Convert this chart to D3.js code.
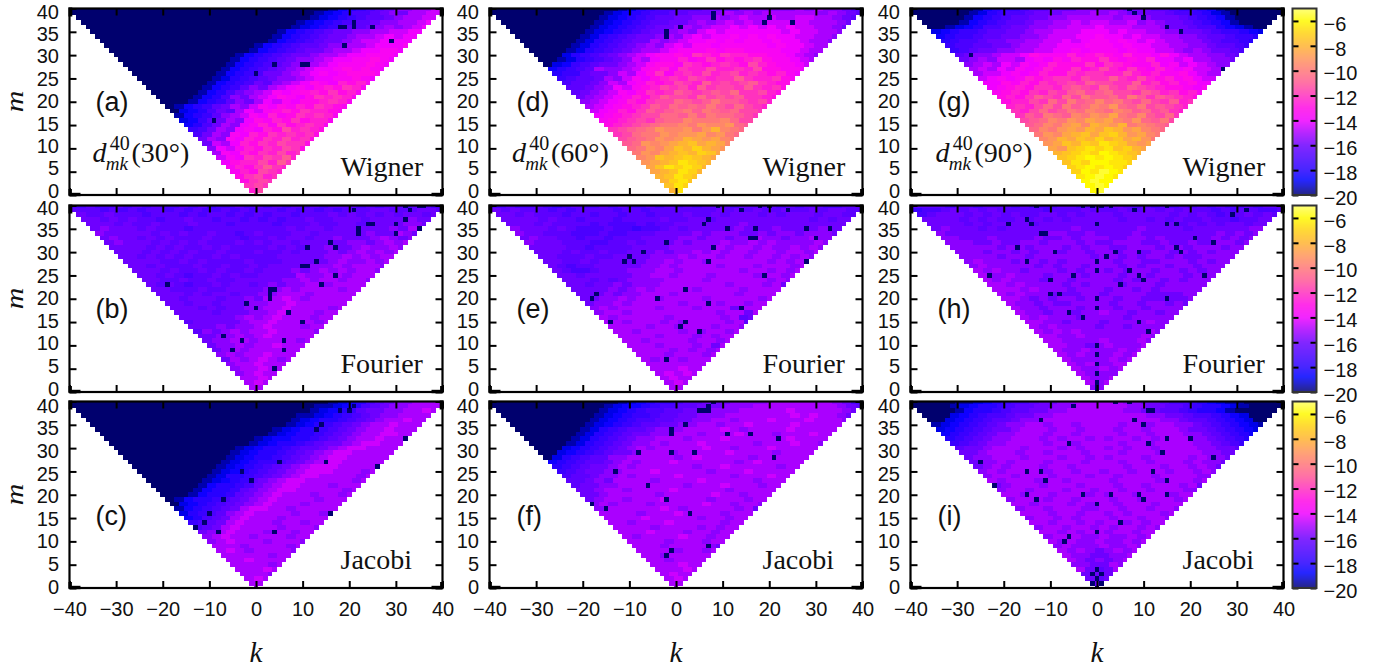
<!DOCTYPE html>
<html>
<head>
<meta charset="utf-8">
<script src="https://cdn.jsdelivr.net/npm/d3@7"></script>
<style>
body { margin: 0; background: #fff; }
svg { display: block; }
text { fill: #111; }
</style>
</head>
<body>
<svg id="chart" width="1382" height="670"></svg>
<script>
// every row is one m (40 down to 0), one char per 2 steps of k from -m upward
// char = base 36, value = -20 + char / 2
const rows_a = [
"0000000000000000000000000000134567899aabb","000000000000000000000000001234667898aabb","00000000000000000000000001234567789aabb",
"0000000000000000000000012345677899aabc","00000000000000000000001234567789a9abc","000000000000000000001345678899aabbcc",
"0000000000000000000134567889aabcbcc","000000000000000000134567889abbcccc","00000000000000001345677899aabcccd",
"000000000000000134567889aabccddc","0000000000000134567889aabccdddc","000000000000134567899abccddedc",
"0000000000013456789aabcdddedc","000000000013456789abccdededc","00000000013456889abcdcdeeed",
"00000000124567899abccddedc","000000013456879abcedcfefd","0000001345798abcdcefegfd",
"00000134689abdcdefegefd","0000134698abcedcegfgfd","0001345798acbdceefgfd",
"0134578a9bdcedfegfed","0234687acbdefegffed","134579abdcfdegfgfd",
"23578a9cedfegeffd","3468a9cdfdgefgfd","568a9cdcfehfgfe",
"68a9dcfegfgfge","8a9dcfegfhfge","8bacfegfhgge",
"9cbdfegfhge","adcfegfhfg","bdcgfhgif","ceffhfig","dfegigf","dfehgf","eghfg","eghg","ghg","fh","h"];
const rows_b = [
"66766767676676756676767676767776767767767","7776767677676766767677676767677788777887","877877767776767767676776777878787878878",
"88787877677877677676767787788878888988","8887877877787776777767778778878888998","8988878777677777777778788788888898a89",
"98888878787787767877788788888988a98","898878787778777677878878898889a989","898887878787778787887888889989a9a",
"888878787787877778787889889a99a9","88878787877877787787888989a9a9a","887878787787877778888899a9a9a",
"88887787877778777888889a99a9a","8878777877877878888999a9aaa9","88878778787787888989a9a9aa9",
"88787677878778888a99aa9aaa","88778778778888899a9aa9aa9","87876778788789899aa9aaaa",
"88777877888899a9aaaa9aa","8887878878899aaa9aaaaa","88788878898aaba9aaaaa",
"88788788899aabaaaaaa","8887878899aabaaaa9a","8888788899abaaa9aa",
"8888889a9abaaa9aa","7888889aabaaaa9a","8889899abaaa9aa",
"7989a9aabaaaa9","8899a9abaaaaa","899aa9aaaa9a",
"899a9aabaaa","89a9aaaaaa","9a9aabaaa","8a9aba9a","9aabaaa","9aabaa","9abaa","aaba","aba","aa","a"];
const rows_c = [
"0000000000000000000000000000123467899aaaa","000000000000000000000000001123467899aaaa","00000000000000000000000001234578899aaba",
"0000000000000000000000011234567899aaaa","00000000000000000000001234456789aabaa","000000000000000000000123456789aabaaa",
"00000000000000000001234456789aabaaa","0000000000000000001234456789aabbaa","000000000000000012334456789aabaaa",
"00000000000000012344567889abbaaa","000000000000012344567789abbaaaa","0000000000001234456789abbaaaaa",
"000000000001234456789abbaaaaa","00000000001234556789abbaaaaa","000000000123456789abbbaaaaa",
"00000000123456789abbbaaa9a","0000000124456789abbaaaa9a","00000012345789abbaaaaa9a",
"0000013445689abbaaa9aaa","000013445789abbaaaaa9a","00013445789abaaa9aa9a",
"0134456789abaaaa9aaa","023456789abaaa9aaaa","1345678abbaa9aaaaa",
"245679abaaaa9aa9a","34678abaaa9aaaaa","5678abaaa9aa9aa",
"678abaaaa9aaa9","89abaaa9aa9aa","9abaa9aaa9aa",
"9abaaa9aaa9","aaa9aaaa9a","aba9aaaa9","aaaaa9aa","aabaaaa","aaaa9a","aaaba","aaa9","aba","aa","a"];
const rows_d = [
"000000000000001245667778888999999a9a99876","0000000000001234566778889a9a9aaaaaa9a987","00000000000123456778899a9abaabaabbaa987",
"000000000012345677889a9abababbbbbaaa98","0000000001234567889a9abbcbcbcbcbbaa98","000000001234567889a9bcbccccccbcbbaa9",
"0000000124567889a9bcbccdcdcdccbbaa9","00000012456788a9abccdcdcddcdccbaa9","0000012456789a9bcbddcdddddcdccbaa",
"000012456789aabcdddedeeddddccbaa","0002456789abcddedgfegffeeddcba9","0012456789bacddfdegefefgeddcba",
"023567889abdeedgfefgfehfeddcb","34567a99abdefdgffhffgfheeddc","4557889bacegdfgfhfghfgfefdc",
"56778a9bdcefgfhgfggigffged","67789bacdfefhgfighghigfee","7789acbdefhghfighhgigfge",
"789abdcegfgihghihjgghfe","89abcdfegihhgjhihiggfe","9abcdfeghhjihikiihghf",
"abcdefgihjijikihjhgf","bcdfegihijkikjijhhg","cdefghhjjikikjjihg",
"defghgijjlkkkljhh","efghijkklkmllmji","ghijkmllmkmolkj",
"ghjkkmlmmnlmkj","hijkmlmonmnlk","ijmlmnopnonl",
"jkmlnpoqonm","kmlnopoqpn","lmpopqpon","mnoprqpo","nprqrqo","noprqo","oprqp","oqrp","prq","or","r"];
const rows_e = [
"66766765676676766767676777677776767766777","8787776767777677677777778787877877878877","887877767767767767778778788878788878877",
"88887877677767777877887888888888878788","8887877776766676778888888988888888888","988878766676656678788888988898888988",
"98877766676677788889899988989989998","8988776776777888899899899a99899a99","988877766778788898999a99a9a9999a9",
"88887767777888899999a9aa9a99a9a9","88878778778889899a9a9aa9aa9aa9a","887778778888999a9aa9aa9aa9a9a9",
"8877878888899a9aa9aaaaaa9a9a9","876778888899a9aaaa9aaa9aaa9a","87667888999aa9aaaaaa9aa9a9a",
"8878888899aa9aaa9aaaa9aa9a","88878789999aaaa9aaaaaa9a9","8878898999aaaaaaa9aaa9a8",
"8888989a9aaaa9aaaa9aaaa","8889899aaa9aaaaaa9aaaa","8899a9aa9aaaa9aaaaa9a",
"899a9aaaaa9aaa9aa9aa","9a9aaaa9aaa9aaa8aaa","9aa9aaaaaaaaa9aa8a",
"a9aaaaa9aaaaa9a78","aa9aaa9a9aaaa9a7","aaaa9aa9aaa9aa9",
"aa9aaaa9a9aa9a","aaaa9aaa9a9aa","aa9aaaa9aa9a",
"aaa9aaa9a8a","aaaa9a9a9a","aaa9aaa9a","a9aa9aaa","aaaaaaa","aaabaa","ababa","abaa","aba","aa","a"];
const rows_f = [
"000000000000001234556778889999aaaaaaa9865","0000000000001233456677888999aaaaaaaaa987","00000000000123456677889999aaaaabaaaaa98",
"000000000012345567788999aaaaaaababaa98","0000000001234566778899aa9aaabaaabaaa9","00000000123456778899aa9aabaaaabaaaaa",
"000000012456778999aaaaba9aaaabaaaaa","0000001245678899aaa9aaabaaa9aaabaa","00000124567899aaa9aaabaaaaaabaaaa",
"0000124567899a9aaabaaaaa9aaabaa9","00023456789a9aaaaabaa9aaabaaaaa","00234567889aaa9aaaaabaaaa9aaa",
"024567799aaaaa9abaaaaa9aaaa","34567789a9aaabaaaaaa9abaaaaa","4567889a9aaaaaa9aabaaaaa9aa",
"5678899aaabaaaaa9aaabaaaaa","677899a9aaaabaaaaa9aaabaa","77898aaaa9aaaabaaaaa9aaa",
"78899aaaaaaa9aaabaaa9aa","889aa9aaaabaaaaa9aaaaa","889aaaaa9aaaaabaa9aaa",
"89aa9aaabaaaa9aaa9aa","9a9aaa9aaaaabaa9aa9","9aaaaaaba9aaaaa9a8",
"aaaa9aaabaaaa9aaa","aaaabaaaaa9aa9aa","aa9aaabaaaaa9aa",
"aaaa9aaaa9a9aa","aaabaaa9aa9aa","a9aaaabaa9aa",
"aaaa9aaa9aa","aaa9aaaa98","aaaa9aa9a","aa9aaaaa","aa9aaaa","aaabaa","aaaba","abaa","aba","aa","a"];
const rows_g = [
"00000001345567788899999888776554310000000","0000001245667888999a9a988887665421000000","000001345677889 9aaaaa9aa988876543100000",
"00001345677899aababbaab9a9887654310000","0012346678899aabbbcbbbaaa988766432100","23455677889aabbbcccbcbbaa99887655432",
"34556778899abbbccdccbcbbaa998776554","456678899aabbcbcddcdcbcbaa99876654","56677889aabbcccdddcdccbbaa9987765",
"5678899aabbccdcdddcdccbba9a98876","7899abbcedddfdefedfddcecbaa9987","89a9bbacdcedfeegededfccbcaa998",
"9abacbdcdfeeegegfeddfcdbcba99","abacbdcdfeegefhfegedfdcdbba9","abbcdcdfeegfggffhfefddecbaa",
"bcdcdfefggfhggigfhfefdecbb","ccedfegfghgihhggifgefdecc","cdefeggfhihgjhgihgfeedcd",
"defegfhgijhijhhgihfgefd","efegihgjhkiijhkigihgfe","effhgjhkijljkihjhgifg",
"fgfhjhkijlkmjikhihgf","gfhjhikjlkjlkijhigf","gihkjilkmlnkjlihjg",
"hijlkmlnmnlkmjikh","ijlkmnlonmoklkji","jlkmnmonpomnlkj",
"kmlnopnpqomnlk","lmonpoqopnomk","mnpoqprqpnmn",
"nmpqrqrpqon","opqrqsrqpo","pqrsrsrqp","prqssrrq","qrsrsrq","qsrtsr","rstsr","stss","sts","st","t"].map(s => s.replace(" ", ""));
const rows_h = [
"77776776777676667767778767676767676676777","5667878787777767778777877878787767677667","678887878787788787888788888787876778787",
"88887878778787878888878878787787767788","8888787888878888888888888887878788788","898887878888888988888898888788888899",
"98888888888899889888898888888898989","9988898888988989998899898888898989","999889889989998988999889889889989",
"99999899899989899889998998999899","9998998989989989989989989898 99","999989989999998998989989889999",
"9a999899898999998998899989899","9a99999898998999898998998999","a9a998999898998989989989899",
"a99a99989998999899899989 99","a9a9998998999989899898999","aa9a99998989998999899999",
"aaa9a9998999899898999 9","a9a99988899899998888999","aa9898998999899888889",
"a9989889999899899898","a998999899989989999","a99899899a99899899",
"a9a99989999899999","aa99899989999a99","a9a999989989999",
"a9a9a9999999a9","aa99a999999a9","aa9999a999a9",
"aa9989a999a","a99a999a9a","a9a999a9a","a9999a9a","a9a99aa","a99a9a","a9999","a99a","a9a","99","9"].map(s => s.replace(" ", ""));
const rows_i = [
"00000112345667889 9aaaaa99887665432110000".replace(" ", ""),"0000123445677889 9aaaaaa9988776544321 0000".replace(/ /g, ""),"000013445677889 9aaaaaa998877654431 0000".replace(/ /g, ""),
"00023456678899aaaaaaaaaa99887665432000","0023456778 99aaaaaaaaaaaaa99877654320 0".replace(/ /g, ""),"1234567899aa9aa9aaaa9aa9aa9987654321",
"234567889aaa9aa9aaa9aa9aaa988765432","34567899aaa9aa9aaaa9aa9aaa99876543","4567899aaa9a9aa9a9aa9a9aaa9987654",
"567899aaaa9aa9aaaa9aa9aaaa998765","7889aaa9aaa9a9aa9a9aa9aaaa99887","889aaa9aa9aaa9aaa9aaa9aaaa9988",
"899aaa9aaa9aa9a9aaa9aaaa9a998","899a9aaa9aaa9aaa9aa9aaa9a998","89a9aaa9aa9aaaaa9aaa9aa9a98",
"9a9aaaa9aa9aa9aa9aaa9aa9a9","9aa9aaa9aaa9aa9aaa9aaaa99","a9aaa9aa9aaaa9aaaa9aaa9a",
"89aaa9aaa9aaa9aa9aaa9a8","9aa9aaa9aa9aa9aa9aaa99","aa9aa9aaa9a9aa9aaa9aa",
"9aaa9aa9aaa9aa9aaa9a","aa9aaa9a9aa9aaa9aaa","9aa9aaa99aa9aa9aa9",
"aaa9aa9aa9a9aaa9a","9aa9a9aaa9aa9aa9","aa9aa9a9aa9a9aa",
"9aa9aa9a9aa9a9","aa9a9aa9aa9aa","9aaa99a99a9a",
"a9a99a99a9a","9a999a99a9","a9a989a9a","a998899a","a98989a","9988a9","a878a","8888","878","88","8"];

// cells read as the near-black outliers, [k, m]
const specks_a = [[21,37],[21,36],[18,36],[19,36],[25,36],[29,33],[19,32],[4,28],[10,28],[11,28],[0,26],[-9,16]];
const specks_b = [[32,40],[35,40],[36,40],[21,39],[33,39],[32,37],[24,36],[25,36],[30,36],[22,35],[22,34],[30,34],[35,35],[16,32],[17,31],[11,31],[13,28],[10,27],[11,27],[17,25],[-19,23],[14,23],[3,22],[4,22],[3,21],[3,20],[-2,19],[0,18],[7,17],[10,15],[-7,12],[-3,11],[6,11],[6,9],[-5,9],[4,5]];
const specks_c = [[18,38],[20,38],[21,39],[14,35],[13,34],[32,32],[5,27],[15,27],[26,26],[-3,25],[-1,23],[-7,19],[-10,16],[16,16],[-11,14],[-13,13],[-8,12],[4,12]];
const specks_d = [[8,39],[8,38],[20,38],[19,37],[25,37],[1,36],[-2,35],[-2,34]];
const specks_e = [[9,40],[18,40],[20,40],[14,39],[24,39],[7,37],[6,36],[11,35],[17,35],[28,35],[33,35],[30,33],[16,33],[17,33],[-2,32],[8,31],[-7,30],[-10,29],[-11,28],[-9,28],[7,28],[28,28],[19,25],[2,22],[-17,21],[-18,20],[-4,20],[7,19],[14,18],[-14,15],[2,15],[1,14],[5,13],[-2,7]];
const specks_f = [[8,40],[7,39],[5,38],[6,38],[7,38],[2,35],[-1,34],[-1,33],[11,33],[16,33],[22,32],[-8,29],[-1,29],[4,29],[21,28],[-13,25],[-6,22],[-18,18],[-2,19],[-15,17],[3,16],[7,9],[-1,8],[-2,7]];
const specks_g = [[7,40],[8,39],[10,38],[15,36],[18,35],[-27,30],[27,27]];
const specks_h = [[-13,40],[-3,40],[-1,40],[1,40],[3,40],[15,40],[8,39],[32,39],[-15,37],[29,38],[-19,36],[-14,36],[0,36],[15,36],[17,36],[-12,34],[-11,34],[21,33],[25,32],[-17,31],[17,31],[-9,30],[4,30],[9,30],[18,30],[2,29],[-15,28],[0,28],[0,26],[7,26],[-23,25],[-5,25],[9,25],[23,25],[-10,24],[10,24],[5,23],[-10,21],[-8,21],[0,20],[15,20],[0,18],[-6,17],[-3,16],[9,15],[11,13],[0,10],[0,8],[0,6],[0,4],[0,2],[0,1],[0,0]];
const specks_i = [[4,40],[7,40],[-5,39],[11,38],[12,38],[-12,36],[8,36],[10,35],[15,32],[20,32],[11,31],[-6,31],[14,29],[25,28],[-25,27],[-15,25],[-12,25],[12,25],[-11,23],[15,23],[-22,22],[-15,20],[-3,20],[3,20],[9,20],[15,20],[-13,19],[10,19],[0,18],[5,14],[0,12],[-6,11],[-7,10],[0,4],[-1,3],[1,3],[0,2],[-1,1],[1,1],[0,0]];

const kTicks = [-40,-30,-20,-10,0,10,20,30,40];
const mTicks = [0,5,10,15,20,25,30,35,40];
const barTicks = [-6,-8,-10,-12,-14,-16,-18,-20];
const letters = ['a','b','c','d','e','f','g','h','i'];
const methods = ['Wigner','Fourier','Jacobi'];
const angles = ['30','60','90'];

const colLeft = [69.5, 489.5, 910.5];
const rowTop = [8.5, 205.5, 401.5];
const plotW = 373, plotH = 186.5;
// y tick labels sit a bit tighter than the ticks in the original
const labelY = [[190,11],[388,207],[586,405]];
const letterBase = [111,318,525];
const methodBase = [176,372.7,569];
const methodX = [271,273,272];
const letterX = [26,27,27];
const dmkX = [23,22.5,25];

const color = d3.scaleLinear()
    .domain([-20,-19.3,-18.8,-18,-16,-15,-14,-13,-12,-11,-10,-9,-8,-7,-6,-5])
    .range(['#00006e','#0000c8','#0000ff','#2800ff','#6e00ff','#aa00ff','#f000ff','#ff0ae6','#ff32be','#ff5a96','#ff7878','#ff965a','#ffb432','#ffd214','#fffa00','#ffff64'])
    .clamp(true);

const svg = d3.select('#chart');
const defs = svg.append('defs');

function drawPanel(col, row) {
    const idx = col * 3 + row;
    const rows = [rows_a,rows_b,rows_c,rows_d,rows_e,rows_f,rows_g,rows_h,rows_i][idx];
    const specks = [specks_a,specks_b,specks_c,specks_d,specks_e,specks_f,specks_g,specks_h,specks_i][idx];
    const left = colLeft[col], top = rowTop[row];
    const x = d3.scaleLinear().domain([-40,40]).range([0,plotW]);
    const y = d3.scaleLinear().domain([0,40]).range([plotH,0]);
    const yLab = d3.scaleLinear().domain([0,40]).range(labelY[row]);
    const g = svg.append('g').attr('transform', `translate(${left},${top})`);

    const cells = [];
    rows.forEach((r, i) => {
        const m = 40 - i;
        for (let k = -m; k <= m; k++) {
            const ch = r[Math.min(Math.floor((k + m) / 2), r.length - 1)];
            cells.push({k: k, m: m, v: -20 + parseInt(ch, 36) / 2});
        }
    });
    specks.forEach(s => {
        const c = cells.find(d => d.k == s[0] && d.m == s[1]);
        if (c) c.v = -20;
    });

    const clipId = 'clip' + idx;
    defs.append('clipPath').attr('id', clipId).append('rect').attr('width', plotW).attr('height', plotH);
    const cw = x(1) - x(0), ch = y(0) - y(1);
    g.append('g').attr('clip-path', `url(#${clipId})`)
        .selectAll('rect').data(cells).enter().append('rect')
        .attr('x', d => x(d.k - 0.5))
        .attr('y', d => y(d.m + 0.5))
        .attr('width', cw)
        .attr('height', ch)
        .attr('shape-rendering', 'crispEdges')
        .attr('fill', d => color(d.v));

    // ticks on all four sides
    const bottom = g.append('g').attr('transform', `translate(0,${plotH})`)
        .call(d3.axisBottom(x).tickValues(kTicks).tickSizeInner(-7).tickSizeOuter(0).tickFormat(row == 2 ? d3.format('d') : ''));
    const topAxis = g.append('g').call(d3.axisTop(x).tickValues(kTicks).tickSizeInner(-7).tickSizeOuter(0).tickFormat(''));
    const leftAxis = g.append('g').call(d3.axisLeft(y).tickValues(mTicks).tickSizeInner(-7).tickSizeOuter(0));
    const rightAxis = g.append('g').attr('transform', `translate(${plotW},0)`)
        .call(d3.axisRight(y).tickValues(mTicks).tickSizeInner(-7).tickSizeOuter(0).tickFormat(''));
    [bottom, topAxis, leftAxis, rightAxis].forEach(a => {
        a.select('.domain').remove();
        a.selectAll('line').attr('stroke', '#000').attr('stroke-width', 2);
    });
    bottom.selectAll('text')
        .attr('y', 28).attr('dy', 0)
        .style('font', '20px "Liberation Sans"');
    leftAxis.selectAll('text')
        .attr('x', -10.5)
        .attr('dy', '.36em')
        .attr('transform', d => `translate(0,${yLab(d) - top - y(d)})`)
        .style('font', '20px "Liberation Sans"');

    g.append('rect').attr('width', plotW).attr('height', plotH)
        .attr('fill', 'none').attr('stroke', '#000').attr('stroke-width', 2.2);
    // the ticks pile up on the frame in the corners
    [[0,plotH-2.2,11,3.4],[-1,plotH-6,3.4,6],[plotW-11,plotH-2.2,11,3.4],[plotW-2.4,plotH-6,3.4,6],
     [-1,-1,3.8,9],[plotW-2.8,-1,3.8,9]].forEach(b => {
        g.append('rect').attr('x', b[0]).attr('y', b[1]).attr('width', b[2]).attr('height', b[3]).attr('fill', '#000');
    });

    g.append('text').attr('x', letterX[col]).attr('y', letterBase[row] - top)
        .style('font', '27px "Liberation Sans"')
        .text('(' + letters[idx] + ')');
    g.append('text').attr('x', methodX[col]).attr('y', methodBase[row] - top)
        .style('font', '28px "Liberation Serif"')
        .text(methods[row]);

    if (row == 0) {
        const dx = dmkX[col];
        const t = (tx, ty, font, s) => g.append('text').attr('x', dx + tx).attr('y', ty - top).style('font', font).text(s);
        t(0, 162, 'italic 28px "Liberation Serif"', 'd');
        t(13.3, 170, 'italic 19px "Liberation Serif"', 'mk');
        t(17.3, 150, '20px "Liberation Serif"', '40');
        t(39, 162, '28px "Liberation Serif"', '(' + angles[col] + '°)');
    }

    if (row == 2) {
        svg.append('text').attr('x', left + plotW / 2).attr('y', 662)
            .attr('text-anchor', 'middle')
            .style('font', 'italic 29px "Liberation Serif"')
            .text('k');
    }
    if (col == 0) {
        const midY = top + 93;
        svg.append('text')
            .attr('transform', `translate(23,${midY}) rotate(-90) scale(1.2,1)`)
            .attr('text-anchor', 'middle')
            .style('font', 'italic 25px "Liberation Serif"')
            .text('m');
    }
}

function drawColorbar(row) {
    const top = rowTop[row];
    const bw = 24;
    const b = d3.scaleLinear().domain([-20,-5]).range([plotH,0]);
    const g = svg.append('g').attr('transform', `translate(1292.5,${top})`);
    g.selectAll('rect').data(d3.range(0, plotH, 1)).enter().append('rect')
        .attr('x', 0).attr('y', d => d).attr('width', bw).attr('height', 1.2)
        .attr('fill', d => color(b.invert(d + 0.5)));
    const axL = g.append('g').call(d3.axisLeft(b).tickValues(barTicks).tickSizeInner(-6).tickSizeOuter(0).tickFormat(''));
    const axR = g.append('g').attr('transform', `translate(${bw},0)`)
        .call(d3.axisRight(b).tickValues(barTicks).tickSizeInner(-6).tickSizeOuter(0).tickFormat(d3.format('d')));
    [axL, axR].forEach(a => {
        a.select('.domain').remove();
        a.selectAll('line').attr('stroke', '#000').attr('stroke-width', 2);
    });
    axR.selectAll('text')
        .attr('x', 7).attr('dy', '.46em')
        .attr('text-anchor', 'start')
        .style('font', '20px "Liberation Sans"');
    g.append('rect').attr('width', bw).attr('height', plotH)
        .attr('fill', 'none').attr('stroke', '#333').attr('stroke-width', 2);
}

for (let c = 0; c < 3; c++) {
    for (let r = 0; r < 3; r++) drawPanel(c, r);
}
for (let r = 0; r < 3; r++) drawColorbar(r);
</script>
</body>
</html>
